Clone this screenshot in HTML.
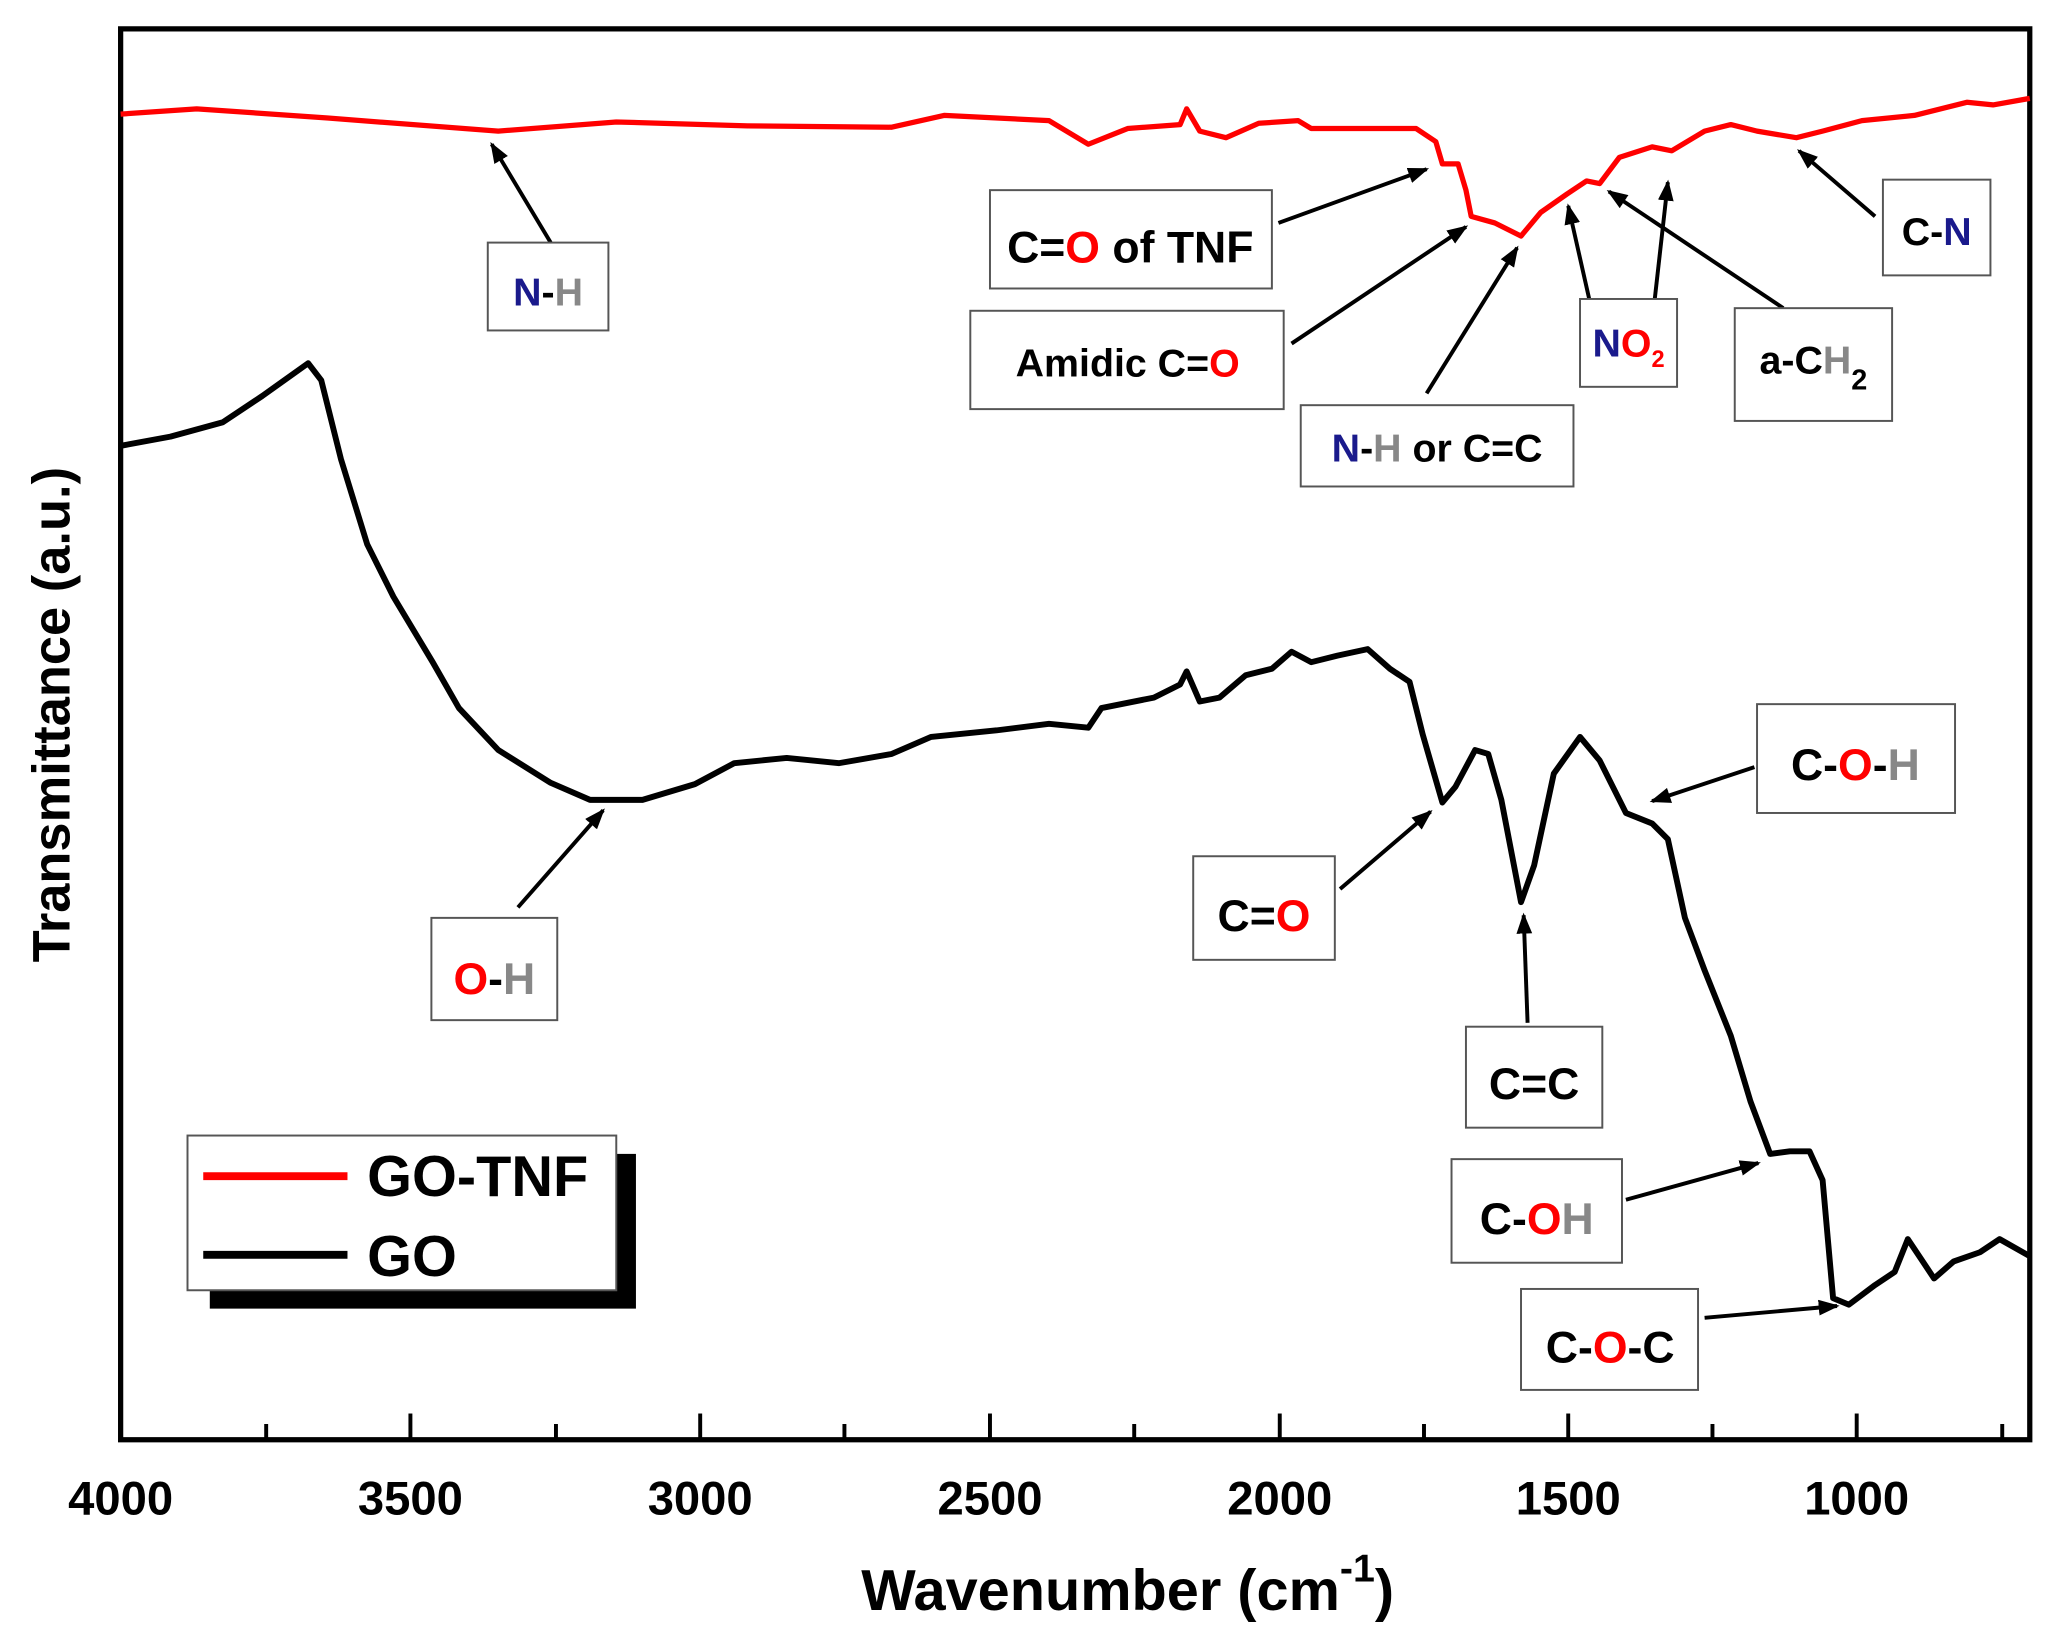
<!DOCTYPE html>
<html><head><meta charset="utf-8"><style>html,body{margin:0;padding:0;background:#fff}svg{display:block}text{font-family:"Liberation Sans",sans-serif;font-weight:bold}</style></head><body>
<svg width="2056" height="1643" viewBox="0 0 1568 1253" xmlns="http://www.w3.org/2000/svg">
<defs><marker id="ah" markerWidth="20" markerHeight="20" refX="14" refY="6" orient="auto" markerUnits="userSpaceOnUse"><path d="M0,0 L16,6 L0,12 Z" fill="#000"/></marker></defs>
<rect x="92" y="22" width="1456" height="1076" fill="none" stroke="#000" stroke-width="4"/>
<g stroke="#000" stroke-width="3">
<line x1="313" y1="1098" x2="313" y2="1078"/><line x1="534" y1="1098" x2="534" y2="1078"/><line x1="755" y1="1098" x2="755" y2="1078"/><line x1="976" y1="1098" x2="976" y2="1078"/><line x1="1196" y1="1098" x2="1196" y2="1078"/><line x1="1416" y1="1098" x2="1416" y2="1078"/>
<line x1="203" y1="1098" x2="203" y2="1086"/><line x1="424" y1="1098" x2="424" y2="1086"/><line x1="644" y1="1098" x2="644" y2="1086"/><line x1="865" y1="1098" x2="865" y2="1086"/><line x1="1086" y1="1098" x2="1086" y2="1086"/><line x1="1306" y1="1098" x2="1306" y2="1086"/><line x1="1527" y1="1098" x2="1527" y2="1086"/>
</g>
<g font-size="36" text-anchor="middle">
<text x="92" y="1155">4000</text><text x="313" y="1155">3500</text><text x="534" y="1155">3000</text><text x="755" y="1155">2500</text><text x="976" y="1155">2000</text><text x="1196" y="1155">1500</text><text x="1416" y="1155">1000</text>
</g>
<text x="860" y="1228" font-size="44" text-anchor="middle">Wavenumber (cm<tspan dy="-22" font-size="30">-1</tspan><tspan dy="22">)</tspan></text>
<text transform="translate(53,545) rotate(-90)" font-size="40" text-anchor="middle">Transmittance (a.u.)</text>
<polyline fill="none" stroke="#f00" stroke-width="4" stroke-linejoin="round" points="92,87 150,83 250,90 380,100 470,93 570,96 680,97 720,88 800,92 830,110 860,98 900,95 905,83 915,100 935,105 960,94 990,92 1000,98 1080,98 1095,108 1100,125 1112,125 1118,145 1122,165 1140,170 1160,180 1175,162 1195,148 1210,138 1220,140 1235,120 1260,112 1275,115 1300,100 1320,95 1340,100 1370,105 1390,100 1420,92 1460,88 1500,78 1520,80 1548,75"/>
<polyline fill="none" stroke="#000" stroke-width="4.5" stroke-linejoin="round" points="92,340 130,333 170,322 200,302 235,277 245,290 260,350 280,415 300,455 330,505 350,540 380,572 420,597 450,610 490,610 530,598 560,582 600,578 640,582 680,575 710,562 760,557 800,552 830,555 840,540 880,532 900,522 905,512 915,535 930,532 950,515 970,510 985,497 1000,505 1020,500 1043,495 1060,510 1075,520 1085,560 1100,612 1110,600 1125,572 1135,575 1145,610 1160,688 1170,660 1185,590 1205,562 1220,580 1240,620 1260,628 1272,640 1285,700 1300,740 1320,790 1335,840 1350,880 1365,878 1380,878 1390,900 1398,990 1410,995 1430,980 1445,970 1455,945 1465,960 1475,975 1490,962 1510,955 1525,945 1548,958"/>
<g stroke="#000" stroke-width="3" marker-end="url(#ah)">
<line x1="420" y1="185" x2="375" y2="110"/><line x1="975" y1="170" x2="1088" y2="129"/><line x1="985" y1="262" x2="1118" y2="173"/><line x1="1088" y1="300" x2="1157" y2="189"/><line x1="1212" y1="228" x2="1196" y2="157"/><line x1="1262" y1="228" x2="1272" y2="139"/><line x1="1360" y1="235" x2="1227" y2="146"/><line x1="1430" y1="165" x2="1372" y2="115"/><line x1="395" y1="692" x2="460" y2="618"/><line x1="1022" y1="678" x2="1091" y2="619"/><line x1="1338" y1="585" x2="1260" y2="611"/><line x1="1165" y1="780" x2="1162" y2="698"/><line x1="1240" y1="915" x2="1341" y2="887"/><line x1="1300" y1="1005" x2="1401" y2="996"/>
</g>
<g fill="#fff" stroke="#555" stroke-width="1.5">
<rect x="372" y="185" width="92" height="67"/><rect x="755" y="145" width="215" height="75"/><rect x="740" y="237" width="239" height="75"/><rect x="992" y="309" width="208" height="62"/><rect x="1205" y="228" width="74" height="67"/><rect x="1323" y="235" width="120" height="86"/><rect x="1436" y="137" width="82" height="73"/><rect x="329" y="700" width="96" height="78"/><rect x="910" y="653" width="108" height="79"/><rect x="1340" y="537" width="151" height="83"/><rect x="1118" y="783" width="104" height="77"/><rect x="1107" y="884" width="130" height="79"/><rect x="1160" y="983" width="135" height="77"/>
</g>
<g font-size="30" text-anchor="middle">
<text x="418" y="233"><tspan fill="#1a1a8c">N</tspan>-<tspan fill="#888">H</tspan></text>
<text x="862" y="200" font-size="34">C=<tspan fill="#f00">O</tspan> of TNF</text>
<text x="860" y="287">Amidic C=<tspan fill="#f00">O</tspan></text>
<text x="1096" y="352"><tspan fill="#1a1a8c">N</tspan>-<tspan fill="#888">H</tspan> or C=C</text>
<text x="1242" y="272"><tspan fill="#1a1a8c">N</tspan><tspan fill="#f00">O<tspan font-size="18" dy="8">2</tspan></tspan></text>
<text x="1383" y="285">a-C<tspan fill="#888">H</tspan><tspan font-size="22" dy="12">2</tspan></text>
<text x="1477" y="187"><tspan>C</tspan>-<tspan fill="#1a1a8c">N</tspan></text>
<text x="377" y="758" font-size="34"><tspan fill="#f00">O</tspan>-<tspan fill="#888">H</tspan></text>
<text x="964" y="710" font-size="34">C=<tspan fill="#f00">O</tspan></text>
<text x="1415" y="595" font-size="34">C-<tspan fill="#f00">O</tspan>-<tspan fill="#888">H</tspan></text>
<text x="1170" y="838" font-size="34">C=C</text>
<text x="1172" y="941" font-size="34">C-<tspan fill="#f00">O</tspan><tspan fill="#888">H</tspan></text>
<text x="1228" y="1039" font-size="34">C-<tspan fill="#f00">O</tspan>-C</text>
</g>
<rect x="160" y="880" width="325" height="118" fill="#000"/>
<rect x="143" y="866" width="327" height="118" fill="#fff" stroke="#555" stroke-width="1.5"/>
<line x1="155" y1="897" x2="265" y2="897" stroke="#f00" stroke-width="6"/>
<line x1="155" y1="957" x2="265" y2="957" stroke="#000" stroke-width="6"/>
<text x="280" y="912" font-size="44">GO-TNF</text>
<text x="280" y="973" font-size="44">GO</text>
</svg>
</body></html>
